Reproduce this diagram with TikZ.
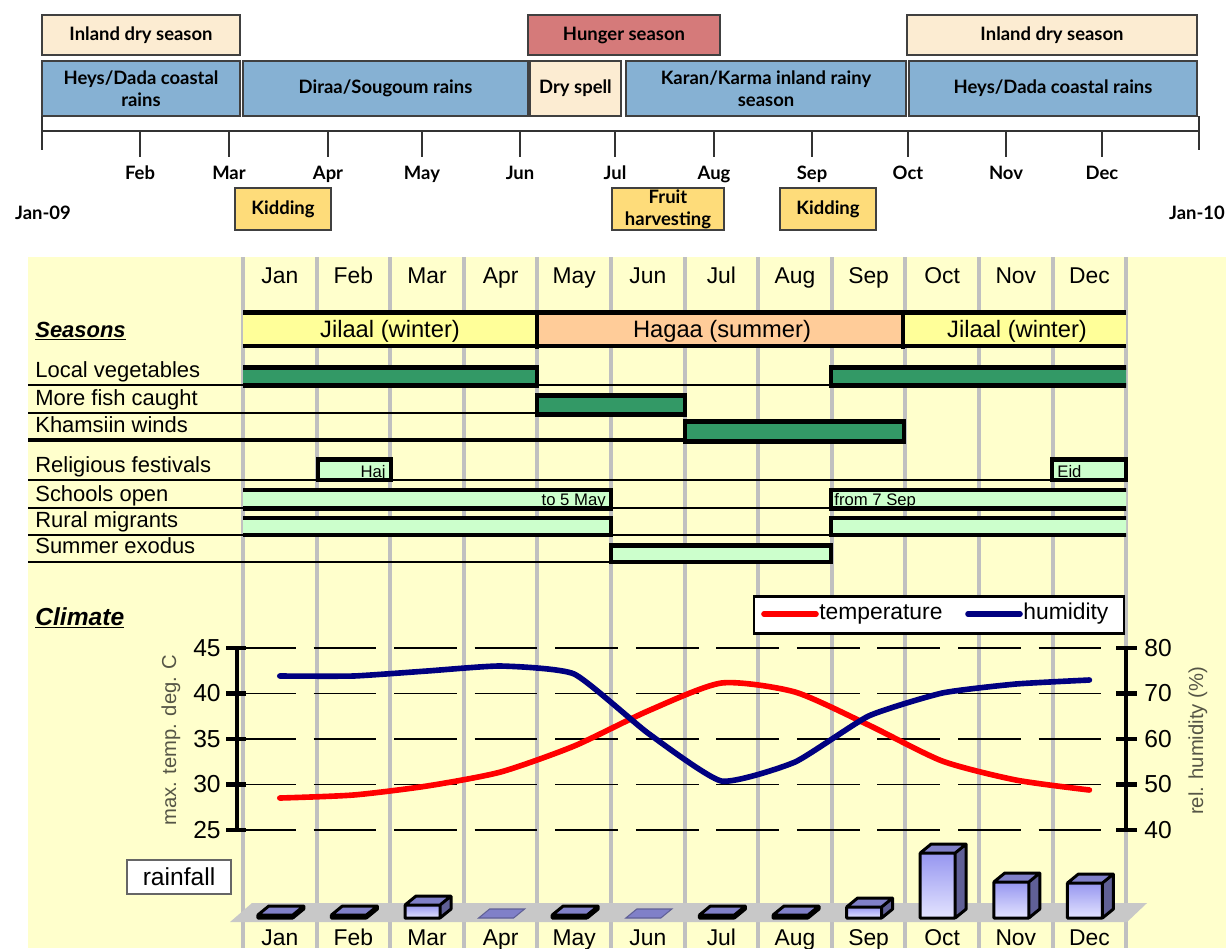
\documentclass[tikz,border=0pt]{standalone}
\usepackage{fontspec}
\setmainfont{Liberation Sans}
\newfontfamily\gillfont{Lato}
\definecolor{drycream}{RGB}{252,236,210}
\definecolor{hungerred}{RGB}{213,122,122}
\definecolor{rainblue}{RGB}{134,177,211}
\definecolor{kidyellow}{RGB}{254,220,122}
\definecolor{chartyellow}{RGB}{255,255,204}
\definecolor{jilaal}{RGB}{255,255,153}
\definecolor{hagaa}{RGB}{255,204,153}
\definecolor{bargreen}{RGB}{51,153,102}
\definecolor{barmint}{RGB}{204,255,204}
\definecolor{gridgray}{RGB}{192,192,192}
\definecolor{navyline}{RGB}{0,0,128}
\definecolor{titlegray}{RGB}{85,85,70}
\definecolor{floorgray}{RGB}{200,200,200}
\definecolor{rainfront}{RGB}{150,150,240}
\definecolor{rainfrontlow}{RGB}{228,228,255}
\definecolor{raintop}{RGB}{128,128,200}
\definecolor{rainside}{RGB}{96,96,150}
\tikzset{
  topbox/.style={draw=black!75, line width=1.1pt, align=center, inner sep=1pt,
    font=\gillfont\bfseries\fontsize{10.5}{12.5}\selectfont},
  drybox/.style={topbox, fill=drycream},
  hungerbox/.style={topbox, fill=hungerred},
  rainbox/.style={topbox, fill=rainblue, minimum height=1.1cm},
  eventbox/.style={topbox, fill=kidyellow, minimum height=0.84cm},
  toptick/.style={line width=1.2pt, draw=black!80},
  toplabel/.style={anchor=base, font=\gillfont\bfseries\fontsize{10.5}{12}\selectfont},
  monthhead/.style={anchor=base, font=\fontsize{13}{15}\selectfont},
  rowlabel/.style={anchor=base west, inner sep=0pt, font=\fontsize{12.5}{14}\selectfont},
  seasontext/.style={anchor=base, font=\fontsize{13.5}{15}\selectfont},
  gridline/.style={line width=2.2pt, draw=gridgray},
  rowline/.style={line width=1.1pt},
  seasonedge/.style={line width=2.8pt},
  darkbar/.style={draw=black, line width=2.8pt, fill=bargreen},
  lightbar/.style={draw=black, line width=2.8pt, fill=barmint},
  bartext/.style={inner sep=0pt, font=\fontsize{9.5}{11}\selectfont},
  dashgrid/.style={line width=1.1pt, dash pattern=on 35.75pt off 10.1pt},
  axisline/.style={line width=2.8pt},
  ticklabel/.style={inner sep=0pt, font=\fontsize{14}{16}\selectfont},
  axistitle/.style={rotate=90, text=titlegray, font=\fontsize{11.5}{13}\selectfont},
  templine/.style={draw=red, line width=3.2pt, line cap=round, line join=round},
  humline/.style={draw=navyline, line width=3.2pt, line cap=round, line join=round},
  legendbox/.style={draw=black, line width=1.4pt, fill=white},
  rainedge/.style={draw=black, line width=1.7pt, line join=round},
  rainlabel/.style={draw=black!60, line width=1.1pt, fill=white, font=\fontsize{14}{16}\selectfont}
}
\newcommand{\rainbar}[2]{%
  \fill[rainside] (#1+13,918) -- (#1+24,909) -- (#1+24,909-#2) -- (#1+13,918-#2) -- cycle;
  \fill[raintop] (#1-22,918-#2) -- (#1-11,909-#2) -- (#1+24,909-#2) -- (#1+13,918-#2) -- cycle;
  \shade[top color=rainfront, bottom color=rainfrontlow] (#1-22,918-#2) rectangle (#1+13,918);
  \draw[rainedge] (#1-22,918) rectangle (#1+13,918-#2)
    (#1-22,918-#2) -- (#1-11,909-#2) -- (#1+24,909-#2) -- (#1+24,909) -- (#1+13,918)
    (#1+13,918-#2) -- (#1+24,909-#2);
}
\newcommand{\rainflat}[1]{%
  \filldraw[fill=raintop, draw=rainside, line width=0.6pt] (#1-22,918) -- (#1-11,909) -- (#1+24,909) -- (#1+13,918) -- cycle;
}
\begin{document}
\begin{tikzpicture}[x=0.02cm,y=-0.02cm]
\useasboundingbox (0,0) rectangle (1226,948);
\fill[white] (0,0) rectangle (1226,948);

\node[drybox, minimum width=3.96cm, minimum height=0.8cm] (inlandA) at (141,35) {Inland dry season};
\node[hungerbox, minimum width=3.84cm, minimum height=0.8cm] (hunger) at (624,35) {Hunger season};
\node[drybox, minimum width=5.8cm, minimum height=0.8cm] (inlandB) at (1052,35) {Inland dry season};
\node[rainbox, minimum width=3.96cm] (heysA) at (141,88.5) {Heys/Dada coastal\\rains};
\node[rainbox, minimum width=5.7cm] (diraa) at (385.5,88.5) {Diraa/Sougoum rains};
\node[drybox, minimum width=1.82cm, minimum height=1.1cm] (dryspell) at (575.5,88.5) {Dry spell};
\node[rainbox, minimum width=5.6cm] (karan) at (766,88.5) {Karan/Karma inland rainy\\season};
\node[rainbox, minimum width=5.76cm] (heysB) at (1053,88.5) {Heys/Dada coastal rains};

\draw[toptick] (42,131) -- (1199,131);
\draw[toptick] (42,116) -- (42,150);
\draw[toptick] (1199,116) -- (1199,150);
\foreach \x/\m in {140/Feb,229/Mar,328/Apr,422/May,520/Jun,615/Jul,714/Aug,812/Sep,908/Oct,1006/Nov,1102/Dec}{
  \draw[toptick] (\x,131) -- (\x,157);
  \node[toplabel] (top\m) at (\x,179) {\m};
}
\node[toplabel] (jan09) at (43,219) {Jan-09};
\node[toplabel] (jan10) at (1197,219) {Jan-10};
\node[eventbox, minimum width=1.92cm] (kiddingA) at (283,209) {Kidding};
\node[eventbox, minimum width=2.24cm] (fruit) at (668,209) {Fruit\\harvesting};
\node[eventbox, minimum width=1.92cm] (kiddingB) at (828,209) {Kidding};

\fill[chartyellow] (28,257) rectangle (1226,948);
\foreach \i in {0,...,12}
  \draw[gridline] ({243+73.6*\i},257) -- ({243+73.6*\i},948);
\foreach \m [count=\i from 0] in {Jan,Feb,Mar,Apr,May,Jun,Jul,Aug,Sep,Oct,Nov,Dec}{
  \node[monthhead] (head\m) at ({279.8+73.6*\i},283) {\m};
  \node[monthhead] (foot\m) at ({279.8+73.6*\i},945) {\m};
}

\node[rowlabel, font=\bfseries\itshape\fontsize{12.5}{14}\selectfont] (seasons) at (35,337) {\underline{Seasons}};
\node[rowlabel] (vegetables) at (35,377) {Local vegetables};
\node[rowlabel] (fish) at (35,405) {More fish caught};
\node[rowlabel] (winds) at (35,432) {Khamsiin winds};
\node[rowlabel] (festivals) at (35,472) {Religious festivals};
\node[rowlabel] (schools) at (35,501.5) {Schools open};
\node[rowlabel] (migrants) at (35,527.5) {Rural migrants};
\node[rowlabel] (exodus) at (35,553) {Summer exodus};

\draw[rowline] (28,385) -- (1126,385);
\draw[rowline] (28,413) -- (685,413);
\draw[rowline, line width=2.8pt] (28,440) -- (904,440);
\draw[rowline] (28,480) -- (1126,480);
\draw[rowline] (28,508) -- (1126,508);
\draw[rowline] (28,535) -- (1126,535);
\draw[rowline] (28,562) -- (831,562);

\begin{scope}
  \clip (243,250) rectangle (1126,600);
  \fill[jilaal] (243,313) rectangle (537,346);
  \fill[hagaa] (537,313) rectangle (903,346);
  \fill[jilaal] (903,313) rectangle (1126,346);
  \draw[seasonedge] (243,312.5) -- (1126,312.5) (243,346) -- (1126,346)
    (537,310) -- (537,349) (903,310) -- (903,349);
  \draw[darkbar] (236,367.5) rectangle (537,385.5);
  \draw[darkbar] (831,367.5) rectangle (1133,385.5);
  \draw[darkbar] (537,395.5) rectangle (685,414.5);
  \draw[darkbar] (685,421.5) rectangle (904,441.5);
  \draw[lightbar] (236,490) rectangle (611,508.5);
  \draw[lightbar] (831,490) rectangle (1133,508.5);
  \draw[lightbar] (236,518) rectangle (611,535);
  \draw[lightbar] (831,518) rectangle (1133,535);
  \draw[lightbar] (611,545.5) rectangle (831,562);
\end{scope}
\draw[lightbar] (318,459.5) rectangle (391,480);
\draw[lightbar] (1052,459.5) rectangle (1126,480);
\node[seasontext] (jilaalA) at (390,337) {Jilaal (winter)};
\node[seasontext] (hagaa) at (722,337) {Hagaa (summer)};
\node[seasontext] (jilaalB) at (1017,337) {Jilaal (winter)};
\node[bartext, anchor=base east] (haj) at (386,477) {Haj};
\node[bartext, anchor=base west] (eid) at (1057,477) {Eid};
\node[bartext, anchor=base east] (toMay) at (606,505) {to 5 May};
\node[bartext, anchor=base west] (fromSep) at (834,505) {from 7 Sep};

\node[rowlabel, font=\bfseries\itshape\fontsize{14}{16}\selectfont] (climate) at (35,625) {\underline{Climate}};
\node[legendbox, minimum width=7.4cm, minimum height=0.74cm] (legend) at (939,615) {};
\draw[templine] (764,614) -- (816,614);
\node[anchor=west, inner sep=0pt, font=\fontsize{13}{15}\selectfont] (legtemp) at (819,614) {temperature};
\draw[humline] (968,614) -- (1020,614);
\node[anchor=west, inner sep=0pt, font=\fontsize{13}{15}\selectfont] (leghum) at (1023,614) {humidity};

\foreach \yy in {648,693.5,739,784.5,830}
  \draw[dashgrid] (233,\yy) -- (1104,\yy);
\draw[axisline] (237,648) -- (237,830);
\draw[axisline] (1126,648) -- (1126,830);
\foreach \yy/\t/\h in {648/45/80,693.5/40/70,739/35/60,784.5/30/50,830/25/40}{
  \draw[axisline] (226,\yy) -- (246,\yy);
  \draw[axisline] (1116,\yy) -- (1137,\yy);
  \node[ticklabel, anchor=east] (temp\t) at (221,\yy) {\t};
  \node[ticklabel, anchor=west] (hum\h) at (1144,\yy) {\h};
}
\node[axistitle] (temptitle) at (171,740) {max. temp. deg. C};
\node[axistitle] (humtitle) at (1198,741) {rel. humidity (\%)};

\draw[templine] plot[smooth, tension=0.4] coordinates {(279.8,798) (353.4,795) (427,786) (500.6,772) (574.2,746) (647.8,711) (721.4,683) (795,692) (868.6,725) (942.2,761) (1015.8,780) (1089.4,790)};
\draw[humline] plot[smooth, tension=0.3] coordinates {(279.8,676) (353.4,676) (427,671) (500.6,666) (574.2,674) (647.8,733) (721.4,781) (795,762) (868.6,716) (942.2,693) (1015.8,684) (1089.4,680)};

\node[rainlabel, minimum width=2.08cm, minimum height=0.68cm] (rainfall) at (179,877) {rainfall};
\fill[floorgray] (230,922) -- (1127,922) -- (1147,903) -- (252,903) -- cycle;
\foreach \h [count=\i from 0] in {3,3,13,0,3,0,3,3,11,65,36,35}{
  \pgfmathsetmacro\cx{279.8+73.6*\i}
  \ifnum\h=0 \rainflat{\cx}\else\rainbar{\cx}{\h}\fi
}
\end{tikzpicture}
\end{document}
